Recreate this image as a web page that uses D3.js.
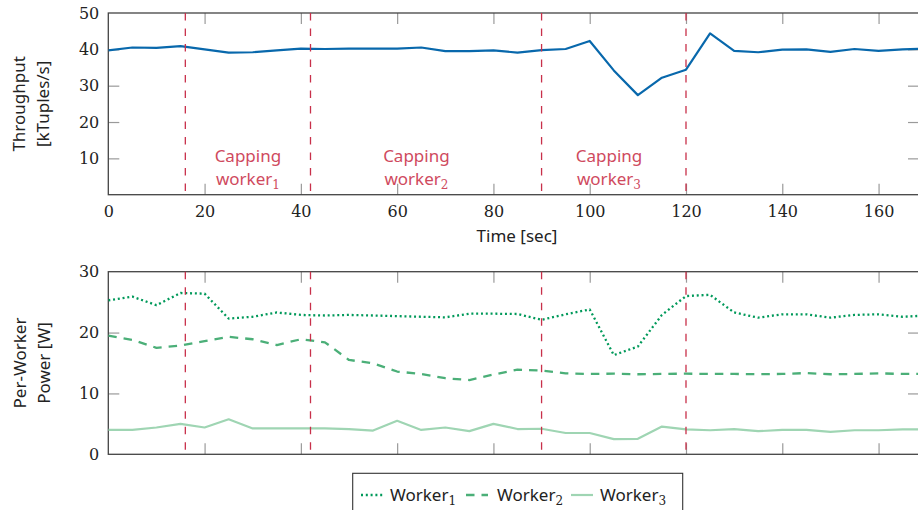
<!DOCTYPE html>
<html>
<head>
<meta charset="utf-8">
<script src="https://cdn.jsdelivr.net/npm/d3@7"></script>
<style>
  body { margin: 0; background: #fff; }
  svg { display: block; }
  .tick text { font-family: "DejaVu Serif", serif; font-size: 16px; fill: #222; }
  .tick line { stroke: #9a9a9a; stroke-width: 1.2; }
  .sans { font-family: "Noto Sans", sans-serif; font-size: 17px; fill: #222; }
</style>
</head>
<body>
<svg id="svg" width="918" height="510"></svg>
<script>
// time axis (sec)
const times = [0, 5, 10, 15, 20, 25, 30, 35, 40, 45, 50, 55, 60, 65, 70, 75, 80, 85,
  90, 95, 100, 105, 110, 115, 120, 125, 130, 135, 140, 145, 150, 155, 160, 165, 170];

// throughput [kTuples/s]
const throughput = [39.7, 40.5, 40.4, 40.9, 40.0, 39.1, 39.2, 39.7, 40.2, 40.1, 40.2, 40.2,
  40.2, 40.5, 39.5, 39.5, 39.7, 39.1, 39.8, 40.1, 42.3, 34.2, 27.4, 32.2, 34.4, 44.4,
  39.6, 39.2, 39.9, 40.0, 39.3, 40.1, 39.6, 40.0, 40.2];

// per-worker power [W]
const worker1 = [25.3, 25.9, 24.5, 26.5, 26.4, 22.3, 22.6, 23.3, 22.9, 22.8, 22.9, 22.8,
  22.7, 22.6, 22.5, 23.1, 23.1, 23.05, 22.1, 23.0, 23.8, 16.3, 17.7, 22.9, 26.0, 26.2,
  23.3, 22.45, 23.0, 23.0, 22.45, 22.9, 23.0, 22.6, 22.8];
const worker2 = [19.5, 18.8, 17.5, 17.85, 18.6, 19.3, 18.9, 17.95, 18.9, 18.4, 15.5, 14.95,
  13.6, 13.2, 12.5, 12.2, 13.1, 13.9, 13.75, 13.3, 13.2, 13.25, 13.15, 13.2, 13.25, 13.2,
  13.2, 13.15, 13.2, 13.35, 13.15, 13.2, 13.3, 13.2, 13.2];
const worker3 = [4.0, 4.0, 4.4, 5.0, 4.4, 5.75, 4.25, 4.25, 4.25, 4.25, 4.15, 3.9,
  5.5, 4.0, 4.4, 3.8, 5.0, 4.15, 4.2, 3.5, 3.5, 2.5, 2.55, 4.55, 4.1, 3.95,
  4.15, 3.8, 4.0, 4.0, 3.7, 3.95, 3.95, 4.1, 4.1];

const xTicks = [0, 20, 40, 60, 80, 100, 120, 140, 160];
const throughputTicks = [10, 20, 30, 40, 50];
const powerTicks = [0, 10, 20, 30];
const capTimes = [16, 42, 90, 120];
const capLabelTimes = [29, 64, 104];
const capWorkers = ["1", "2", "3"];
const legendNames = ["1", "2", "3"];

const red = "#c8304a";
const svg = d3.select("#svg");

let x = d3.scaleLinear().domain([0, 168.4]).range([108.3, 919]);
let yTop = d3.scaleLinear().domain([0, 50]).range([194.7, 13]);
let yBot = d3.scaleLinear().domain([0, 30]).range([454.3, 271.7]);

svg.append("defs").append("clipPath").attr("id", "clipTop")
  .append("rect").attr("x", x.range()[0]).attr("y", yTop.range()[1])
  .attr("width", x.range()[1] - x.range()[0]).attr("height", yTop.range()[0] - yTop.range()[1]);
svg.select("defs").append("clipPath").attr("id", "clipBot")
  .append("rect").attr("x", x.range()[0]).attr("y", yBot.range()[1])
  .attr("width", x.range()[1] - x.range()[0]).attr("height", yBot.range()[0] - yBot.range()[1]);

const drawFrame = function(y, yTicks, showX) {
  let g = svg.append("g");
  let bottom = y.range()[0], top = y.range()[1];

  let xb = g.append("g").attr("transform", "translate(0," + bottom + ")")
    .call(d3.axisBottom(x).tickValues(xTicks).tickSize(-11).tickPadding(11));
  if (!showX) xb.selectAll("text").remove();
  xb.selectAll(".tick").filter((d) => d === 0).select("line").remove();

  let xt = g.append("g").attr("transform", "translate(0," + top + ")")
    .call(d3.axisTop(x).tickValues(xTicks.filter((d) => d > 0)).tickSize(-11));
  xt.selectAll("text").remove();

  let yl = g.append("g").attr("transform", "translate(" + x.range()[0] + ",0)")
    .call(d3.axisLeft(y).tickValues(yTicks).tickSize(-11).tickPadding(9));
  yl.selectAll(".tick").filter((d) => d === y.domain()[0] || d === y.domain()[1]).select("line").remove();

  let yr = g.append("g").attr("transform", "translate(" + x.range()[1] + ",0)")
    .call(d3.axisRight(y).tickValues(yTicks.filter((d) => d > y.domain()[0] && d < y.domain()[1])).tickSize(-11));
  yr.selectAll("text").remove();

  g.selectAll(".domain").remove();
  g.append("rect")
    .attr("x", x.range()[0]).attr("y", top)
    .attr("width", x.range()[1] - x.range()[0]).attr("height", bottom - top)
    .attr("fill", "none").attr("stroke", "#444").attr("stroke-width", 1.3);
  return g;
}

const drawLine = function(values, y, clipId, color, width, dash) {
  let line = d3.line()
    .x((d, i) => x(times[i]))
    .y((d) => y(d));
  svg.append("path")
    .datum(values)
    .attr("clip-path", "url(#" + clipId + ")")
    .attr("fill", "none")
    .attr("stroke", color)
    .attr("stroke-width", width)
    .attr("stroke-linejoin", "round")
    .attr("stroke-dasharray", dash)
    .attr("d", line);
}

const drawCapLines = function(y) {
  svg.append("g").selectAll("line").data(capTimes).join("line")
    .attr("x1", (d) => x(d)).attr("x2", (d) => x(d))
    .attr("y1", y.range()[1]).attr("y2", y.range()[0])
    .attr("stroke", red).attr("stroke-width", 1.3)
    .attr("stroke-dasharray", "7.5,8");
}

// top chart
drawFrame(yTop, throughputTicks, true);
drawLine(throughput, yTop, "clipTop", "#0868ac", 2.2, null);
drawCapLines(yTop);

capLabelTimes.forEach((t, i) => {
  let g = svg.append("g").attr("text-anchor", "middle");
  g.append("text").attr("class", "sans").attr("x", x(t)).attr("y", 162)
    .style("fill", "#cf4a5e").text("Capping");
  let w = g.append("text").attr("class", "sans").attr("x", x(t)).attr("y", 185)
    .style("fill", "#cf4a5e").text("worker");
  w.append("tspan").attr("dy", 4).style("font-family", "DejaVu Serif, serif")
    .style("font-size", "12px").text(capWorkers[i]);
});

svg.append("text").attr("class", "sans").attr("x", 517).attr("y", 242)
  .attr("text-anchor", "middle").text("Time [sec]");

let yt = svg.append("text").attr("class", "sans").attr("text-anchor", "middle")
  .attr("transform", "translate(0," + (yTop.range()[0] + yTop.range()[1]) / 2 + ") rotate(-90)");
yt.append("tspan").attr("x", 0).attr("y", 25).text("Throughput");
yt.append("tspan").attr("x", 0).attr("y", 49).text("[kTuples/s]");

// bottom chart
drawFrame(yBot, powerTicks, false);
drawLine(worker3, yBot, "clipBot", "#9fd5b3", 2.2, null);
drawLine(worker2, yBot, "clipBot", "#4baf78", 2.3, "8.5,7");
drawLine(worker1, yBot, "clipBot", "#00995a", 2.3, "2,2.8");
drawCapLines(yBot);

let yb = svg.append("text").attr("class", "sans").attr("text-anchor", "middle")
  .attr("transform", "translate(0," + (yBot.range()[0] + yBot.range()[1]) / 2 + ") rotate(-90)");
yb.append("tspan").attr("x", 0).attr("y", 26).text("Per-Worker");
yb.append("tspan").attr("x", 0).attr("y", 50).text("Power [W]");

// legend
let legend = svg.append("g");
legend.append("rect").attr("x", 352.7).attr("y", 473.3).attr("width", 330).attr("height", 50)
  .attr("fill", "#fff").attr("stroke", "#333").attr("stroke-width", 1.1);
let samples = [
  { x: 361, color: "#00995a", width: 2.3, dash: "2,2.8", tx: 390 },
  { x: 466, color: "#4baf78", width: 2.3, dash: "8.5,7", tx: 497 },
  { x: 571, color: "#9fd5b3", width: 2.2, dash: null, tx: 600 }
];
samples.forEach((s, i) => {
  legend.append("line").attr("x1", s.x).attr("x2", s.x + 22).attr("y1", 495).attr("y2", 495)
    .attr("stroke", s.color).attr("stroke-width", s.width).attr("stroke-dasharray", s.dash);
  let t = legend.append("text").attr("class", "sans").attr("x", s.tx).attr("y", 501).text("Worker");
  t.append("tspan").attr("dy", 4).style("font-family", "DejaVu Serif, serif")
    .style("font-size", "12px").text(legendNames[i]);
});
</script>
</body>
</html>
